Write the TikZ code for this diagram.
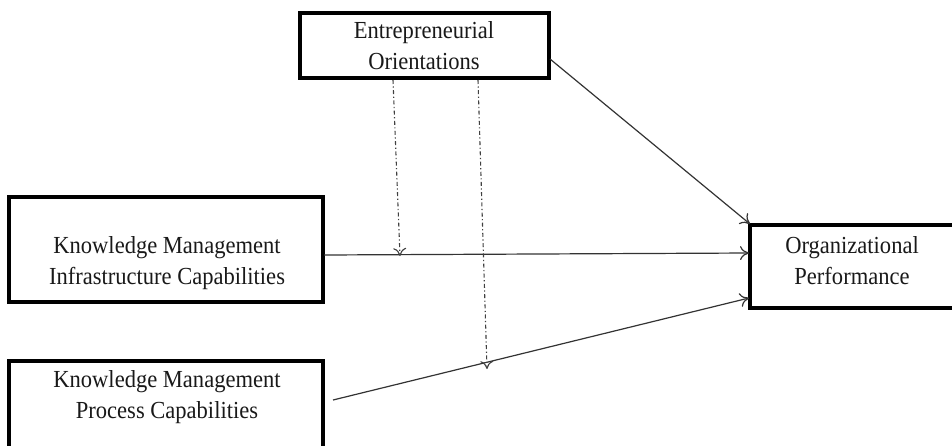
\documentclass[tikz,border=0pt]{standalone}
\usepackage{fontspec}
\setmainfont{Liberation Serif}
\newfontfamily\lblfont[FakeStretch=0.92]{Liberation Serif}
\usetikzlibrary{arrows.meta}
\begin{document}
\begin{tikzpicture}[x=1pt,y=-1pt,
  box/.style={draw=black,line width=3.2pt,line join=miter},
  lbl/.style={font=\lblfont\fontsize{24.5}{31}\selectfont,align=center,inner sep=0pt,text=black!90},
  link/.style={draw=black!80,line width=1.2pt,-{Computer Modern Rightarrow[length=9pt,width=14pt,line width=1.2pt]}},
  moder/.style={draw=black!75,line width=1.1pt,dash pattern=on 4pt off 2.5pt on 1.2pt off 2.5pt,-{Computer Modern Rightarrow[length=8pt,width=13pt,line width=1.1pt]}}]
\useasboundingbox (0,0) rectangle (952,445);
% boxes
\draw[box] (300,13) rectangle (549,78);
\node[inner sep=0pt,minimum size=0pt] (eo) at (424.5,45.5) {};
\draw[box] (9,197) rectangle (323,302);
\node[inner sep=0pt] (kmi) at (166,249) {};
\draw[box] (9,361) rectangle (323,470);
\node[inner sep=0pt] (kmp) at (166,415) {};
\draw[box] (750,225) rectangle (958,308);
\node[inner sep=0pt] (op) at (854,266) {};
% texts
\node[lbl] (eot) at (424,46) {Entrepreneurial\\Orientations};
\node[lbl] (kmit) at (167,263) {Knowledge Management\\Infrastructure Capabilities};
\node[lbl] (kmpt) at (167,397) {Knowledge Management\\Process Capabilities};
\node[lbl] (opt) at (852,261) {Organizational\\Performance};
% connector endpoints
\coordinate (eoR) at (550,59);
\coordinate (opTL) at (750,224);
\coordinate (kmiR) at (324,255);
\coordinate (opL1) at (749,253);
\coordinate (kmpR) at (333,400);
\coordinate (opL2) at (749,298);
\coordinate (eoB1) at (393,80);
\coordinate (m1) at (400,256);
\coordinate (eoB2) at (478,80);
\coordinate (m2) at (487,369);
% connectors
\draw[link] (eoR) -- (opTL);
\draw[link] (kmiR) -- (opL1);
\draw[link] (kmpR) -- (opL2);
\draw[moder] (eoB1) -- (m1);
\draw[moder] (eoB2) -- (m2);
\end{tikzpicture}
\end{document}
